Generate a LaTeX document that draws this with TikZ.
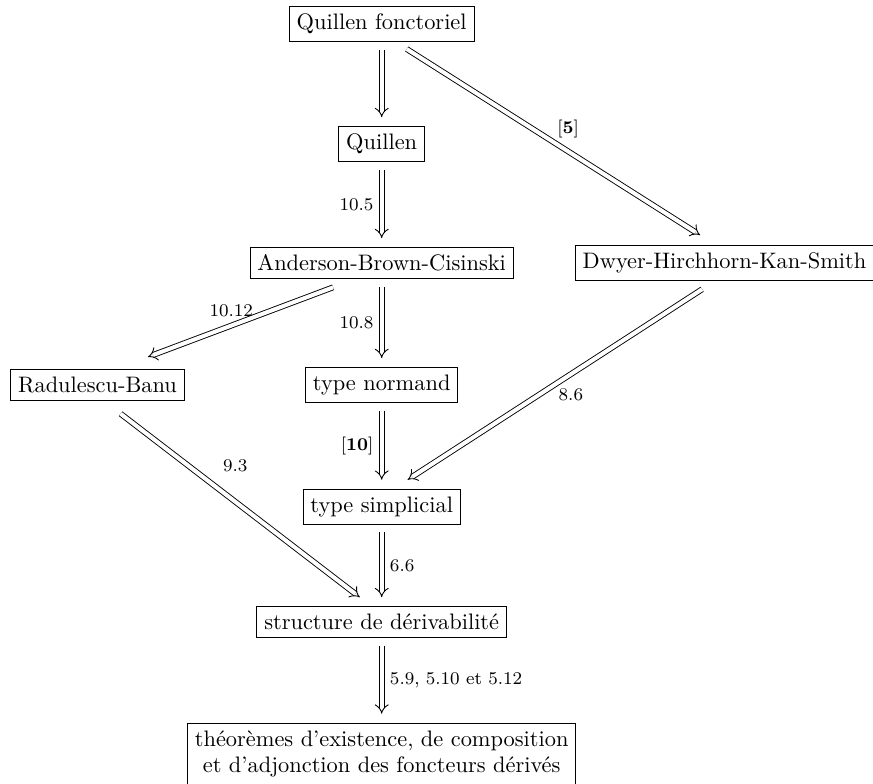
\documentclass[tikz,border=0pt]{standalone}
\usepackage{tikz}
\usetikzlibrary{arrows.meta}

\tikzset{
  box/.style={draw, inner sep=3.3pt},
  imp/.style={double, double distance=1.8pt, -{Implies}},
  gap/.style={shorten <=3.5pt, shorten >=4pt},
  lab/.style={font=\footnotesize, inner sep=3.5pt}
}

\begin{document}
\begin{tikzpicture}

    \useasboundingbox (0,0) rectangle (13.70,-12.30);

    % entries, one column at x = 5.99
    \node[box] (qf)   at (5.99,-0.38)  {Quillen fonctoriel};
    \node[box] (q)    at (5.99,-2.26)  {Quillen};
    \node[box] (abc)  at (5.99,-4.13)  {Anderson-Brown-Cisinski};
    \node[box] (dhks) at (11.37,-4.13) {Dwyer-Hirchhorn-Kan-Smith};
    \node[box] (rb)   at (1.53,-6.04)  {Radulescu-Banu};
    \node[box] (tn)   at (5.99,-6.04)  {type normand};
    \node[box] (ts)   at (5.99,-7.95)  {type simplicial};
    \node[box] (sdd)  at (5.99,-9.76)  {structure de dérivabilité};
    \node[box, anchor=north, text depth=6pt] (thm) at (5.99,-11.34)
        {\shortstack{théorèmes d'existence, de composition\\
                     et d'adjonction des foncteurs dérivés}};

    % implications
    \draw[imp,gap] (qf) -- (q);
    \draw[imp,gap] (q) -- node[lab,left] {10.5} (abc);
    \draw[imp,gap] (abc) -- node[lab,left] {10.8} (tn);
    \draw[imp,gap] (tn) -- node[lab,left] {[\textbf{10}]} (ts);
    \draw[imp,gap] (ts) -- node[lab,right] {6.6} (sdd);
    \draw[imp,gap] (sdd) -- node[lab,right] {5.9, 5.10 et 5.12} (thm);

    \draw[imp] ([shift={(11.2pt,-3.1pt)}]qf.south)
        -- node[lab,above right,inner sep=1.5pt] {[\textbf{5}]}
           ([shift={(-10.9pt,4.5pt)}]dhks.north);
    \draw[imp] ([shift={(-21.7pt,-3.6pt)}]abc.south)
        -- node[lab,above,pos=.55] {10.12}
           ([shift={(22.5pt,5.4pt)}]rb.north);
    \draw[imp] ([shift={(-10pt,-3.6pt)}]dhks.south)
        -- node[lab,below right,inner sep=1.5pt] {8.6}
           ([shift={(11.6pt,4pt)}]ts.north);
    \draw[imp] ([shift={(10.3pt,-5.8pt)}]rb.south)
        -- node[lab,above right,pos=.38,inner sep=5pt] {9.3}
           ([shift={(-9.8pt,4pt)}]sdd.north);

\end{tikzpicture}
\end{document}
